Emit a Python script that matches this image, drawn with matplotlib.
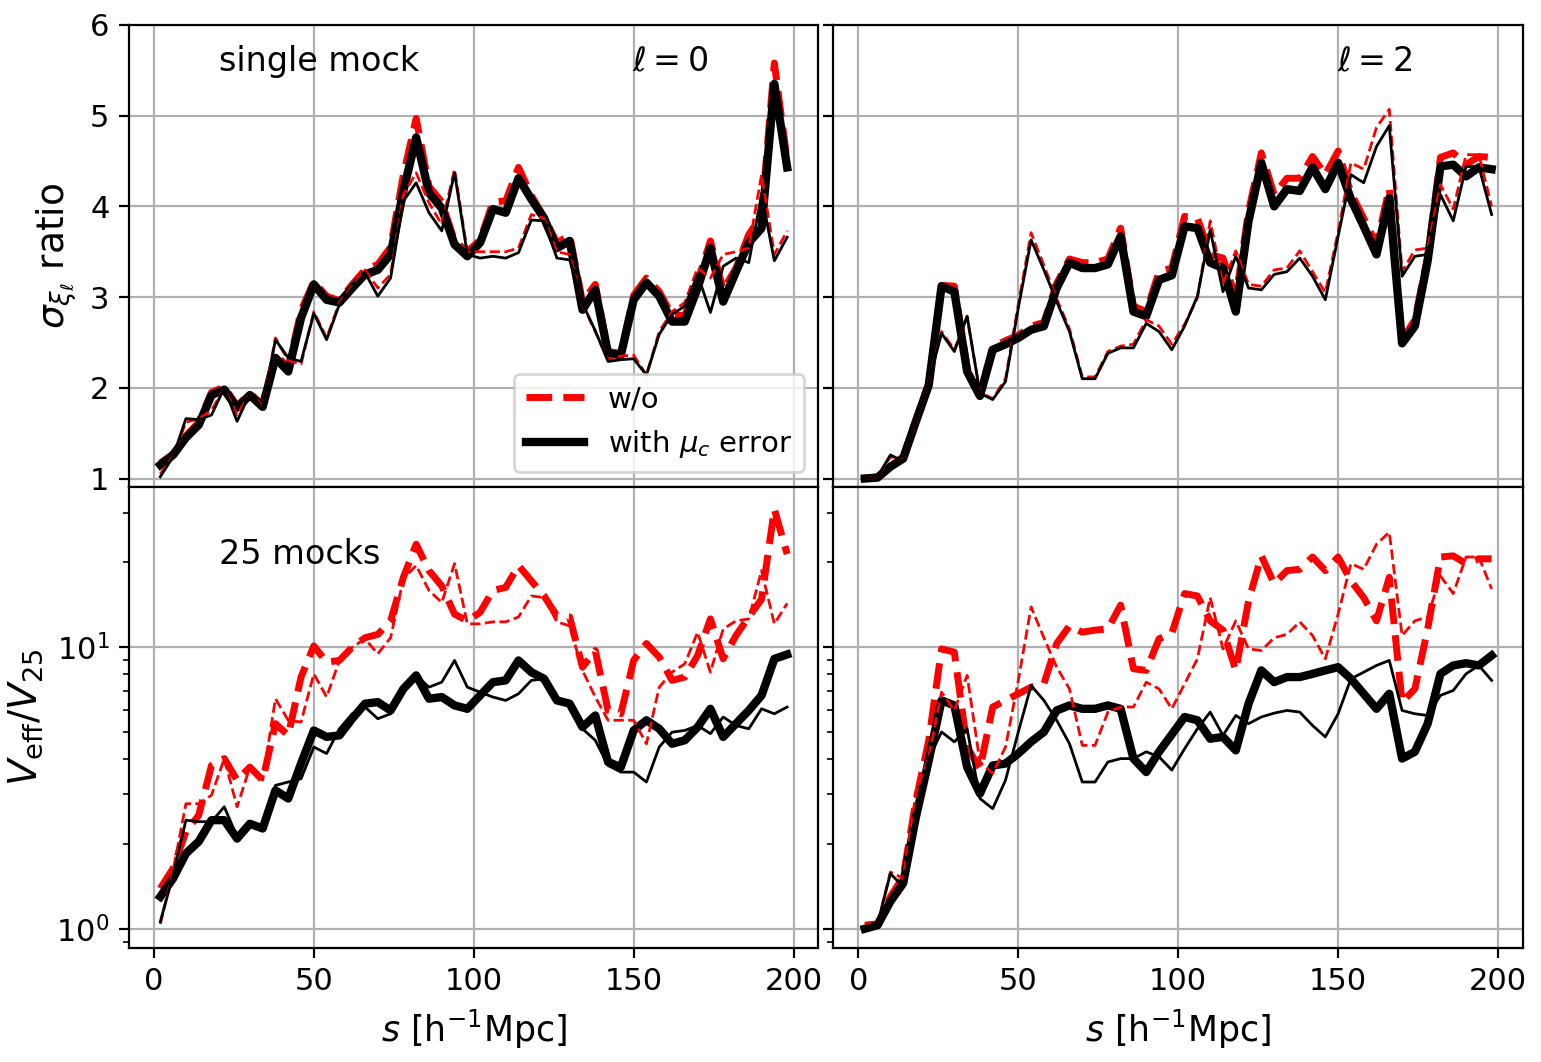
import numpy as np
import matplotlib
matplotlib.use('Agg')
import matplotlib.pyplot as plt

# separation bins
s = [2, 6, 10, 14, 18, 22, 26, 30, 34, 38, 42, 46, 50, 54, 58, 62, 66, 70, 74, 78, 82, 86, 90, 94, 98,
     102, 106, 110, 114, 118, 122, 126, 130, 134, 138, 142, 146, 150, 154, 158, 162, 166, 170, 174, 178,
     182, 186, 190, 194, 198]

# single mock, l=0
single0_wo = [1.17, 1.27, 1.47, 1.62, 1.95, 2.01, 1.80, 1.94, 1.81, 2.37, 2.22, 2.85, 3.17, 3.01, 2.96, 3.14, 3.30,
              3.36, 3.55, 4.35, 4.97, 4.22, 4.05, 3.62, 3.50,
              3.63, 4.05, 4.06, 4.43, 4.12, 3.88, 3.60, 3.68, 2.95, 3.14, 2.40, 2.38, 3.02, 3.21, 3.06, 2.80,
              2.80, 3.17, 3.62, 3.08, 3.32, 3.69, 3.90, 5.58, 4.50]
single0_with = [1.15, 1.26, 1.45, 1.59, 1.92, 1.98, 1.78, 1.92, 1.79, 2.33, 2.18, 2.77, 3.14, 2.97, 2.94, 3.10, 3.25,
                3.30, 3.47, 4.17, 4.76, 4.15, 3.98, 3.58, 3.45,
                3.60, 3.97, 3.93, 4.31, 4.08, 3.87, 3.54, 3.62, 2.86, 3.08, 2.38, 2.36, 2.97, 3.16, 3.01, 2.73,
                2.73, 3.10, 3.54, 2.95, 3.28, 3.60, 3.76, 5.35, 4.43]
single0_wo_b = [1.05, 1.25, 1.62, 1.66, 1.75, 2.00, 1.70, 1.94, 1.80, 2.55, 2.30, 2.26, 2.84, 2.55, 2.94, 3.12, 3.30,
                3.10, 3.25, 4.13, 4.37, 4.04, 3.80, 4.41, 3.50,
                3.50, 3.50, 3.50, 3.54, 3.91, 3.87, 3.50, 3.47, 2.92, 2.62, 2.31, 2.35, 2.36, 2.14, 2.62, 2.84,
                2.94, 3.32, 3.21, 3.47, 3.50, 3.54, 4.35, 3.47, 3.73]
single0_with_b = [1.02, 1.24, 1.66, 1.65, 1.70, 2.00, 1.63, 1.94, 1.78, 2.53, 2.33, 2.29, 2.82, 2.53, 2.92, 3.10, 3.27,
                  3.01, 3.21, 4.06, 4.26, 3.93, 3.73, 4.37, 3.47,
                  3.43, 3.45, 3.43, 3.49, 3.85, 3.84, 3.43, 3.41, 2.93, 2.63, 2.29, 2.31, 2.32, 2.14, 2.59, 2.81,
                  2.90, 3.25, 2.83, 3.34, 3.43, 3.38, 4.13, 3.40, 3.66]

# single mock, l=2
single2_wo = [1.00, 1.02, 1.14, 1.24, 1.65, 2.05, 3.13, 3.12, 2.22, 1.93, 2.45, 2.52, 2.58, 2.68, 2.72, 3.15, 3.42,
              3.38, 3.38, 3.42, 3.76, 2.90, 2.84, 3.28, 3.32,
              3.89, 3.87, 3.47, 3.43, 2.99, 3.95, 4.59, 4.13, 4.31, 4.31, 4.55, 4.35, 4.61, 4.15, 3.87, 3.58,
              4.20, 2.53, 2.75, 3.45, 4.54, 4.59, 4.46, 4.55, 4.54]
single2_with = [1.00, 1.01, 1.13, 1.22, 1.63, 2.03, 3.12, 3.06, 2.18, 1.91, 2.42, 2.48, 2.55, 2.64, 2.68, 3.10, 3.38,
                3.32, 3.32, 3.36, 3.67, 2.84, 2.79, 3.19, 3.24,
                3.78, 3.76, 3.38, 3.32, 2.84, 3.84, 4.48, 4.00, 4.19, 4.17, 4.43, 4.19, 4.48, 4.08, 3.78, 3.47,
                4.09, 2.49, 2.68, 3.40, 4.44, 4.46, 4.33, 4.43, 4.41]
single2_wo_b = [1.00, 1.02, 1.24, 1.20, 1.62, 2.07, 2.62, 2.42, 2.78, 1.95, 1.88, 2.10, 2.92, 3.71, 3.35, 2.98, 2.65,
                2.12, 2.12, 2.40, 2.46, 2.48, 2.75, 2.68, 2.48,
                2.70, 2.99, 3.84, 3.14, 3.51, 3.14, 3.12, 3.30, 3.32, 3.51, 3.28, 3.05, 3.72, 4.48, 4.41, 4.87,
                5.07, 3.28, 3.52, 3.54, 4.24, 3.97, 4.57, 4.57, 4.00]
single2_with_b = [1.00, 1.02, 1.26, 1.19, 1.63, 2.07, 2.60, 2.40, 2.79, 1.94, 1.87, 2.07, 2.88, 3.63, 3.30, 2.95, 2.62,
                  2.10, 2.10, 2.38, 2.44, 2.44, 2.71, 2.62, 2.42,
                  2.68, 3.01, 3.74, 3.06, 3.45, 3.10, 3.08, 3.25, 3.28, 3.43, 3.23, 2.97, 3.67, 4.35, 4.26, 4.66,
                  4.89, 3.23, 3.45, 3.47, 4.13, 3.84, 4.44, 4.44, 3.91]

# 25 mocks, l=0
mocks0_wo = [1.39, 1.64, 2.21, 2.53, 3.80, 4.02, 3.37, 3.75, 3.37, 5.35, 4.86, 7.83, 10.1, 8.85, 8.97, 10.0, 10.8,
             11.1, 12.4, 17.7, 23.2, 18.7, 16.5, 13.1, 12.4,
             13.3, 15.9, 16.3, 19.5, 17.2, 15.2, 12.9, 12.8, 8.49, 9.73, 5.96, 5.80, 8.97, 10.3, 9.22, 7.62,
             7.83, 9.34, 12.6, 9.09, 11.0, 12.8, 14.8, 30.9, 21.4]
mocks0_with = [1.30, 1.51, 1.85, 2.04, 2.43, 2.43, 2.09, 2.36, 2.27, 3.10, 2.90, 3.86, 5.06, 4.80, 4.86, 5.57, 6.30,
               6.38, 5.96, 7.11, 7.94, 6.56, 6.65, 6.21, 6.04,
               6.74, 7.51, 7.62, 8.97, 8.15, 7.72, 6.47, 6.30, 5.20, 5.72, 3.91, 3.75, 5.06, 5.50, 5.13, 4.54,
               4.67, 5.20, 6.04, 4.80, 5.35, 5.96, 6.74, 9.09, 9.42]
mocks0_wo_b = [1.04, 1.61, 2.78, 2.78, 2.98, 4.02, 2.71, 3.75, 3.37, 6.56, 5.50, 5.42, 8.04, 6.65, 8.97, 10.0, 10.7,
               9.47, 10.8, 17.5, 19.5, 15.9, 14.4, 19.8, 12.1,
               12.1, 12.3, 12.3, 12.8, 15.2, 15.0, 12.3, 11.9, 8.27, 6.65, 5.50, 5.50, 5.50, 4.54, 7.21, 8.15,
               8.73, 11.3, 8.15, 11.6, 12.4, 12.6, 18.7, 12.1, 14.3]
mocks0_with_b = [1.06, 1.55, 2.43, 2.40, 2.40, 2.71, 2.12, 2.40, 2.30, 3.23, 3.32, 3.41, 4.42, 4.19, 5.13, 5.80, 6.13,
                 5.57, 5.80, 7.11, 7.94, 7.21, 7.51, 8.97, 7.21,
                 6.92, 6.65, 6.47, 6.83, 7.62, 7.72, 6.65, 6.21, 5.13, 4.67, 3.80, 3.60, 3.60, 3.32, 4.42, 4.99,
                 5.06, 5.27, 4.93, 5.65, 5.27, 5.13, 6.04, 5.80, 6.13]

# 25 mocks, l=2
mocks2_wo = [1.03, 1.04, 1.30, 1.53, 2.86, 4.67, 9.86, 9.60, 4.42, 3.70, 6.13, 6.47, 6.83, 7.21, 7.41, 10.3, 11.9,
             11.3, 11.5, 11.6, 14.1, 8.38, 8.27, 10.7, 11.2,
             15.5, 15.2, 12.4, 11.5, 8.27, 14.6, 21.1, 16.8, 18.7, 18.9, 20.9, 18.7, 20.9, 17.2, 15.0, 12.4,
             17.7, 6.38, 7.11, 11.6, 20.9, 21.1, 19.8, 20.6, 20.6]
mocks2_with = [1.00, 1.03, 1.25, 1.45, 2.50, 3.96, 6.47, 6.21, 3.75, 3.02, 3.80, 3.86, 4.19, 4.61, 5.00, 5.96, 6.21,
               6.04, 6.04, 6.21, 6.04, 4.02, 3.60, 4.25, 4.90,
               5.65, 5.50, 4.73, 4.80, 4.30, 6.30, 8.27, 7.51, 7.83, 7.83, 8.04, 8.27, 8.49, 7.72, 6.83, 6.04,
               6.83, 4.02, 4.25, 5.35, 8.04, 8.61, 8.77, 8.61, 9.34]
mocks2_wo_b = [1.03, 1.04, 1.59, 1.51, 3.02, 4.08, 6.92, 5.96, 7.94, 3.91, 3.56, 4.42, 7.62, 13.9, 10.8, 8.49, 7.11,
               4.48, 4.48, 5.88, 6.13, 6.13, 7.51, 7.11, 6.04,
               7.41, 9.09, 15.0, 9.86, 12.4, 9.86, 9.73, 10.8, 11.1, 12.3, 11.0, 9.09, 13.1, 19.8, 18.9, 23.2,
               25.6, 11.0, 12.4, 12.8, 17.9, 15.5, 20.9, 20.9, 16.1]
mocks2_with_b = [1.02, 1.04, 1.57, 1.41, 2.64, 4.02, 5.00, 4.61, 5.13, 2.90, 2.67, 3.37, 5.00, 7.31, 6.47, 5.50, 4.54,
                 3.32, 3.32, 3.91, 4.02, 4.02, 4.25, 4.08, 3.66,
                 4.36, 5.13, 5.88, 4.86, 5.72, 5.35, 5.65, 5.83, 5.96, 5.88, 5.27, 4.80, 5.80, 7.72, 8.15, 8.61,
                 8.97, 5.96, 5.80, 5.72, 6.74, 7.02, 8.04, 8.61, 7.62]

panels = [[(single0_wo, single0_with, single0_wo_b, single0_with_b),
           (single2_wo, single2_with, single2_wo_b, single2_with_b)],
          [(mocks0_wo, mocks0_with, mocks0_wo_b, mocks0_with_b),
           (mocks2_wo, mocks2_with, mocks2_wo_b, mocks2_with_b)]]

fig, axes = plt.subplots(2, 2, figsize=(7.705, 5.31), dpi=200, sharex=True, sharey='row')
fig.subplots_adjust(left=0.0837, right=0.9883, bottom=0.1073, top=0.9765, wspace=0.0217, hspace=0)

for i in range(2):
    for j in range(2):
        ax = axes[i, j]
        wo, wi, wo_b, wi_b = panels[i][j]
        ax.plot(s, wo, 'r--', lw=2.5, label='w/o')
        ax.plot(s, wi, 'k-', lw=3, label=r'with $\mu_c$ error')
        ax.plot(s, wo_b, 'r--', lw=1)
        ax.plot(s, wi_b, 'k-', lw=1)
        ax.grid(True)
        ax.tick_params(labelsize=11)

for ax in axes[1]:
    ax.set_yscale('log')
    ax.set_xlabel(r'$s\ [\mathrm{h^{-1}Mpc}]$', fontsize=12.5)

axes[0, 0].set_ylim(0.912, 6)
axes[1, 0].set_ylim(0.854, 37.2)
axes[0, 0].set_xlim(-7.8, 207.8)

axes[0, 0].set_ylabel(r'$\sigma_{\xi_\ell}$ ratio', fontsize=13.5)
axes[1, 0].set_ylabel(r'$V_{\rm eff}/V_{25}$', fontsize=14)

axes[0, 0].text(0.13, 0.9, 'single mock', transform=axes[0, 0].transAxes, fontsize=12)
axes[0, 0].text(0.73, 0.9, r'$\ell=0$', transform=axes[0, 0].transAxes, fontsize=12)
axes[0, 1].text(0.73, 0.9, r'$\ell=2$', transform=axes[0, 1].transAxes, fontsize=12)
axes[1, 0].text(0.13, 0.833, '25 mocks', transform=axes[1, 0].transAxes, fontsize=12)

axes[0, 0].legend(loc='lower right', fontsize=10.5)

plt.savefig('out.png', dpi=200)
